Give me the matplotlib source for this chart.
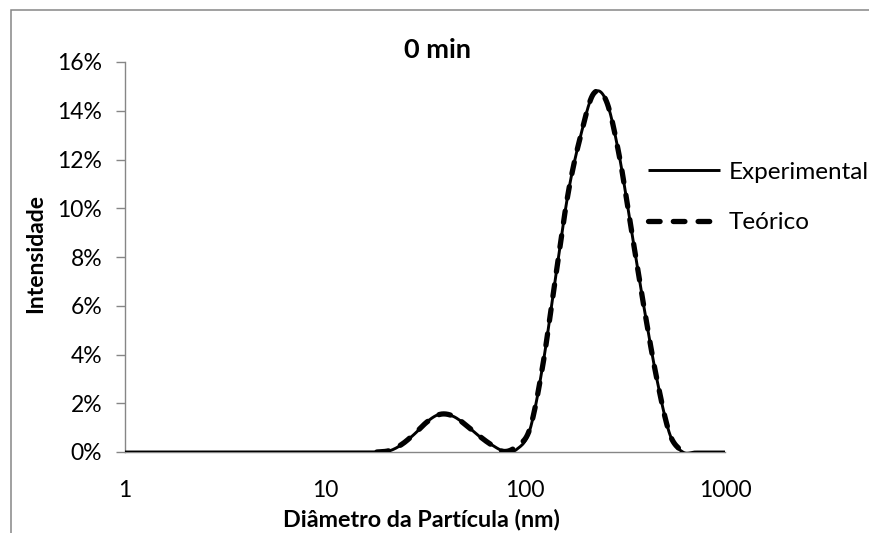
import numpy as np
import matplotlib
matplotlib.use("Agg")
import matplotlib.pyplot as plt
from matplotlib.patches import Rectangle
from matplotlib.ticker import FixedLocator, FuncFormatter

plt.rcParams['font.family'] = ['Lato', 'DejaVu Sans']

# ---- data ----
sizes_exp = [0.9649, 1.117, 1.294, 1.499, 1.736, 2.01, 2.328, 2.696, 3.122, 3.615,
             4.187, 4.849, 5.615, 6.503, 7.531, 8.721, 10.1, 11.7, 13.54, 15.69,
             18.17, 21.04, 24.36, 28.21, 32.67, 37.84, 43.82, 50.75, 58.77, 68.06,
             78.82, 91.28, 105.7, 122.4, 141.8, 164.2, 190.1, 220.2, 255.0, 295.3,
             342.0, 396.1, 458.7, 531.2, 615.1, 712.4, 825.0, 955.4, 1106.0]
intens_exp = [0, 0, 0, 0, 0, 0, 0, 0, 0, 0,
              0, 0, 0, 0, 0, 0, 0, 0, 0, 0,
              0.0, 0.05, 0.32, 0.76, 1.27, 1.56, 1.46, 1.10, 0.66, 0.30,
              0.03, 0.12, 0.9, 3.5, 7.1, 10.6, 13.0, 14.7, 14.4, 12.2,
              9.0, 5.8, 2.9, 0.7, 0.0, 0.0, 0.0, 0.0, 0.0]

sizes_teo = [18.17, 21.04, 24.36, 28.21, 32.67, 37.84, 43.82, 50.75, 58.77, 68.06,
             78.82, 91.28, 105.7, 122.4, 141.8, 164.2, 190.1, 220.2, 255.0, 295.3,
             342.0, 396.1, 458.7, 531.2, 615.1]
intens_teo = [0.0, 0.06, 0.33, 0.77, 1.26, 1.55, 1.47, 1.10, 0.67, 0.29,
              0.02, 0.25, 0.95, 3.5, 7.1, 10.6, 13.0, 14.7, 14.4, 12.2,
              9.0, 5.8, 2.9, 0.7, 0.0]

series_labels = ['Experimental', 'Teórico']
y_ticks = [0, 2, 4, 6, 8, 10, 12, 14, 16]
x_ticks = [1, 10, 100, 1000]
title = '0 min'
xlabel = 'Diâmetro da Partícula (nm)'
ylabel = 'Intensidade'


def smooth(xs, ys, n=12):
    """Catmull-Rom smoothing in log-x space (Excel 'smoothed line' style)."""
    lx = np.log10(np.asarray(xs, float))
    y = np.asarray(ys, float)
    P = np.column_stack([lx, y])
    P = np.vstack([P[0], P, P[-1]])
    out = []
    t = np.linspace(0, 1, n, endpoint=False)
    for i in range(1, len(P) - 2):
        p0, p1, p2, p3 = P[i - 1], P[i], P[i + 1], P[i + 2]
        t2, t3 = t * t, t * t * t
        pts = 0.5 * ((2 * p1)[None, :] + np.outer(t, -p0 + p2)
                     + np.outer(t2, 2 * p0 - 5 * p1 + 4 * p2 - p3)
                     + np.outer(t3, -p0 + 3 * p1 - 3 * p2 + p3))
        out.append(pts)
    out.append(P[-2][None, :])
    out = np.vstack(out)
    return 10 ** out[:, 0], out[:, 1]


W, H = 869, 533
fig = plt.figure(figsize=(W / 100, H / 100), dpi=100)
ax = fig.add_axes([125 / W, 1 - 452 / H, 600 / W, 390 / H])

xe, ye = smooth(sizes_exp, intens_exp)
xt, yt = smooth(sizes_teo, intens_teo)
ax.plot(xe, ye, color='black', lw=2.1, solid_capstyle='butt', label=series_labels[0], zorder=3)
ax.plot(xt, yt, color='black', lw=3.8, dash_capstyle='round', dashes=(2.2, 2.5),
        label=series_labels[1], zorder=4)

ax.set_xscale('log')
ax.set_xlim(1, 1000)
ax.set_ylim(0, 16)
ax.xaxis.set_major_locator(FixedLocator(x_ticks))
ax.xaxis.set_minor_locator(FixedLocator([]))
ax.xaxis.set_major_formatter(FuncFormatter(lambda v, p: f'{v:g}'))
ax.yaxis.set_major_locator(FixedLocator(y_ticks))
ax.yaxis.set_major_formatter(FuncFormatter(lambda v, p: f'{v:.0f}%'))

for s in ['top', 'right']:
    ax.spines[s].set_visible(False)
for s in ['left', 'bottom']:
    ax.spines[s].set_color('#868686')
    ax.spines[s].set_linewidth(1.0)
ax.tick_params(axis='y', direction='out', length=6.5, width=1.0, color='#868686',
               pad=10, labelsize=16.5, labelcolor='black')
ax.tick_params(axis='x', length=0, pad=20, labelsize=16.5, labelcolor='black')

fig.text(437 / W, 1 - 50 / H, title, ha='center', va='center', fontsize=19.5, fontweight='bold')
fig.text(36 / W, 1 - 253 / H, ylabel, ha='center', va='center', rotation=90,
         fontsize=16.5, fontweight='bold')
fig.text(421 / W, 1 - 519 / H, xlabel, ha='center', va='center', fontsize=16.8, fontweight='bold')

ax.legend(loc='center left', bbox_to_anchor=(648 / W, 1 - 197.5 / H),
          bbox_transform=fig.transFigure, frameon=False, borderpad=0, borderaxespad=0,
          handlelength=2.95, handletextpad=0.38, labelspacing=1.2, fontsize=17.5)

fig.patches.append(Rectangle((11 / W, -0.1), 1.2, 1.1 - 10 / H + 0.0, transform=fig.transFigure,
                             fill=False, edgecolor='#868686', lw=1.1, zorder=0))

fig.savefig('out.png', dpi=100)
